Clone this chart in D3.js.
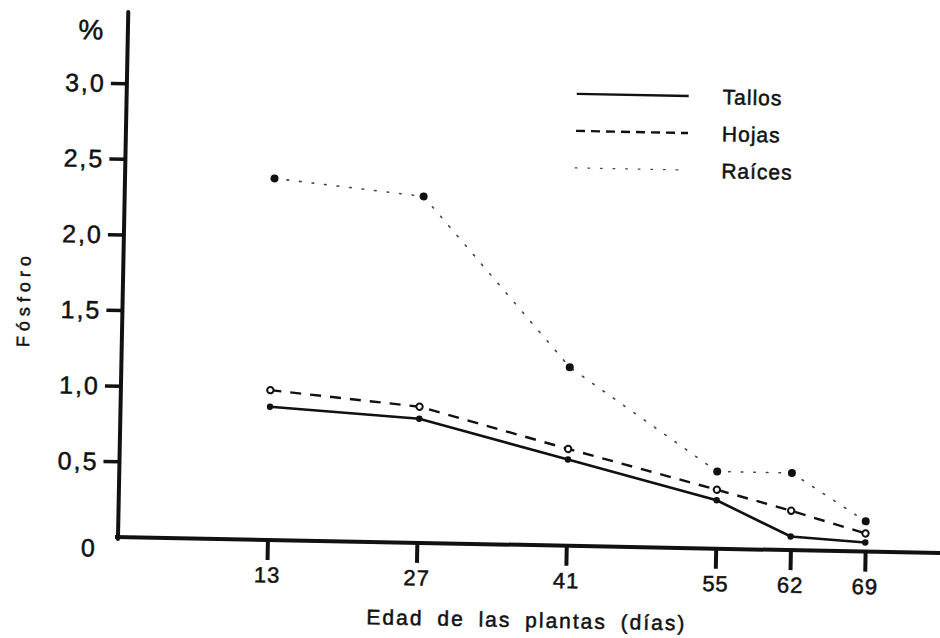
<!DOCTYPE html>
<html>
<head>
<meta charset="utf-8">
<script src="https://cdn.jsdelivr.net/npm/d3@7"></script>
<style>
  html, body { margin: 0; padding: 0; background: #fff; }
  svg { display: block; }
  text { font-family: "Liberation Sans", Arial, sans-serif; fill: #111; stroke: #111; stroke-width: 0.5; }
</style>
</head>
<body>
<svg id="chart" width="940" height="638"></svg>
<script>
// Fósforo (%) en tallos, hojas y raíces según la edad de las plantas
const days = [13, 27, 41, 55, 62, 69];
const tallos = [0.88, 0.82, 0.57, 0.32, 0.09, 0.06];
const hojas = [0.99, 0.90, 0.64, 0.39, 0.26, 0.12];
const raices = [2.39, 2.29, 1.18, 0.51, 0.51, 0.20];

const yTickValues = [0, 0.5, 1.0, 1.5, 2.0, 2.5, 3.0];
const yTickLabels = ["0", "0,5", "1,0", "1,5", "2,0", "2,5", "3,0"];
const xTickValues = [13, 27, 41, 55, 62, 69];

const seriesNames = ["Tallos", "Hojas", "Raíces"];
const seriesValues = [tallos, hojas, raices];

const svg = d3.select("#chart");

// plot frame, origin at the axes corner, slightly tilted
const g = svg.append("g")
  .attr("transform", "translate(118,537) rotate(1.12)");

const x = d3.scaleLinear().domain([-1, 76]).range([0, 822]);
const y = d3.scaleLinear().domain([0, 3.47]).range([0, -525]);

const styles = [
  { width: 2.6, dash: null, color: "#111" },
  { width: 2.4, dash: "11 9", color: "#111" },
  { width: 1.6, dash: "1.6 11", color: "#444" }
];

// axes lines
g.append("line")
  .attr("x1", -3).attr("x2", 840).attr("y1", 0).attr("y2", 0)
  .attr("stroke", "#111").attr("stroke-width", 4);
g.append("line")
  .attr("x1", 0).attr("x2", 0).attr("y1", 2).attr("y2", y(3.47))
  .attr("stroke", "#111").attr("stroke-width", 4).attr("stroke-linecap", "round");

// y axis ticks
const yAxis = d3.axisLeft(y)
  .tickValues(yTickValues)
  .tickSize(16)
  .tickPadding(5)
  .tickFormat((d, i) => yTickLabels[i]);
const yG = g.append("g").call(yAxis);
yG.select(".domain").remove();
yG.selectAll(".tick line")
  .attr("stroke", "#111").attr("stroke-width", 3.5)
  .attr("opacity", d => d === 0 ? 0 : 1);
yG.selectAll(".tick text")
  .attr("font-size", 25)
  .attr("letter-spacing", 2)
  .attr("fill", "#111")
  .attr("font-family", "Liberation Sans, Arial, sans-serif")
  .attr("dy", d => d === 0 ? "0.78em" : "0.34em");

// x axis ticks
const xAxis = d3.axisBottom(x)
  .tickValues(xTickValues)
  .tickSize(20)
  .tickPadding(7)
  .tickFormat(d3.format("d"));
const xG = g.append("g").call(xAxis);
xG.select(".domain").remove();
xG.selectAll(".tick line").attr("stroke", "#111").attr("stroke-width", 4);
xG.selectAll(".tick text")
  .attr("font-size", 22)
  .attr("letter-spacing", 1)
  .attr("fill", "#111")
  .attr("font-family", "Liberation Sans, Arial, sans-serif");

// series lines
const line = d3.line()
  .x((d, i) => x(days[i]))
  .y(d => y(d));

seriesValues.forEach((vals, k) => {
  const s = styles[k];
  g.append("path")
    .datum(vals)
    .attr("d", line)
    .attr("fill", "none")
    .attr("stroke", s.color)
    .attr("stroke-width", s.width)
    .attr("stroke-linecap", k === 2 ? "round" : "butt")
    .attr("stroke-dasharray", s.dash);
});

// markers
g.selectAll(".m-tallos").data(tallos).enter().append("circle")
  .attr("cx", (d, i) => x(days[i])).attr("cy", d => y(d))
  .attr("r", 3.2).attr("fill", "#111");
g.selectAll(".m-hojas").data(hojas).enter().append("circle")
  .attr("cx", (d, i) => x(days[i])).attr("cy", d => y(d))
  .attr("r", 3.2).attr("fill", "#fff").attr("stroke", "#111").attr("stroke-width", 2);
g.selectAll(".m-raices").data(raices).enter().append("circle")
  .attr("cx", (d, i) => x(days[i])).attr("cy", d => y(d))
  .attr("r", 4).attr("fill", "#111");

// legend
const legend = g.append("g").attr("transform", "translate(450,-452)");
seriesNames.forEach((name, k) => {
  const s = styles[k];
  const row = legend.append("g").attr("transform", `translate(0,${k * 37})`);
  row.append("line")
    .attr("x1", 0).attr("x2", 112).attr("y1", 0).attr("y2", 0)
    .attr("stroke", s.color)
    .attr("stroke-width", k === 2 ? 1.4 : 2.4)
    .attr("stroke-linecap", k === 2 ? "round" : "butt")
    .attr("stroke-dasharray", k === 1 ? "9 6" : s.dash);
  row.append("text")
    .attr("x", 146).attr("y", 0).attr("dy", "0.36em")
    .attr("font-size", 21)
    .attr("letter-spacing", 1)
    .text(name);
});

// axis titles
g.append("text")
  .attr("x", -37).attr("y", -507).attr("dy", "0.35em")
  .attr("text-anchor", "middle")
  .attr("font-size", 28)
  .text("%");

g.append("text")
  .attr("transform", "translate(-99,-236) rotate(-90)")
  .attr("text-anchor", "middle")
  .attr("dy", "0.35em")
  .attr("font-size", 18)
  .attr("letter-spacing", 5)
  .text("Fósforo");

g.append("text")
  .attr("x", 410).attr("y", 75).attr("dy", "0.35em")
  .attr("text-anchor", "middle")
  .attr("font-size", 21)
  .attr("letter-spacing", 2)
  .attr("word-spacing", 6)
  .text("Edad de las plantas (días)");
</script>
</body>
</html>
